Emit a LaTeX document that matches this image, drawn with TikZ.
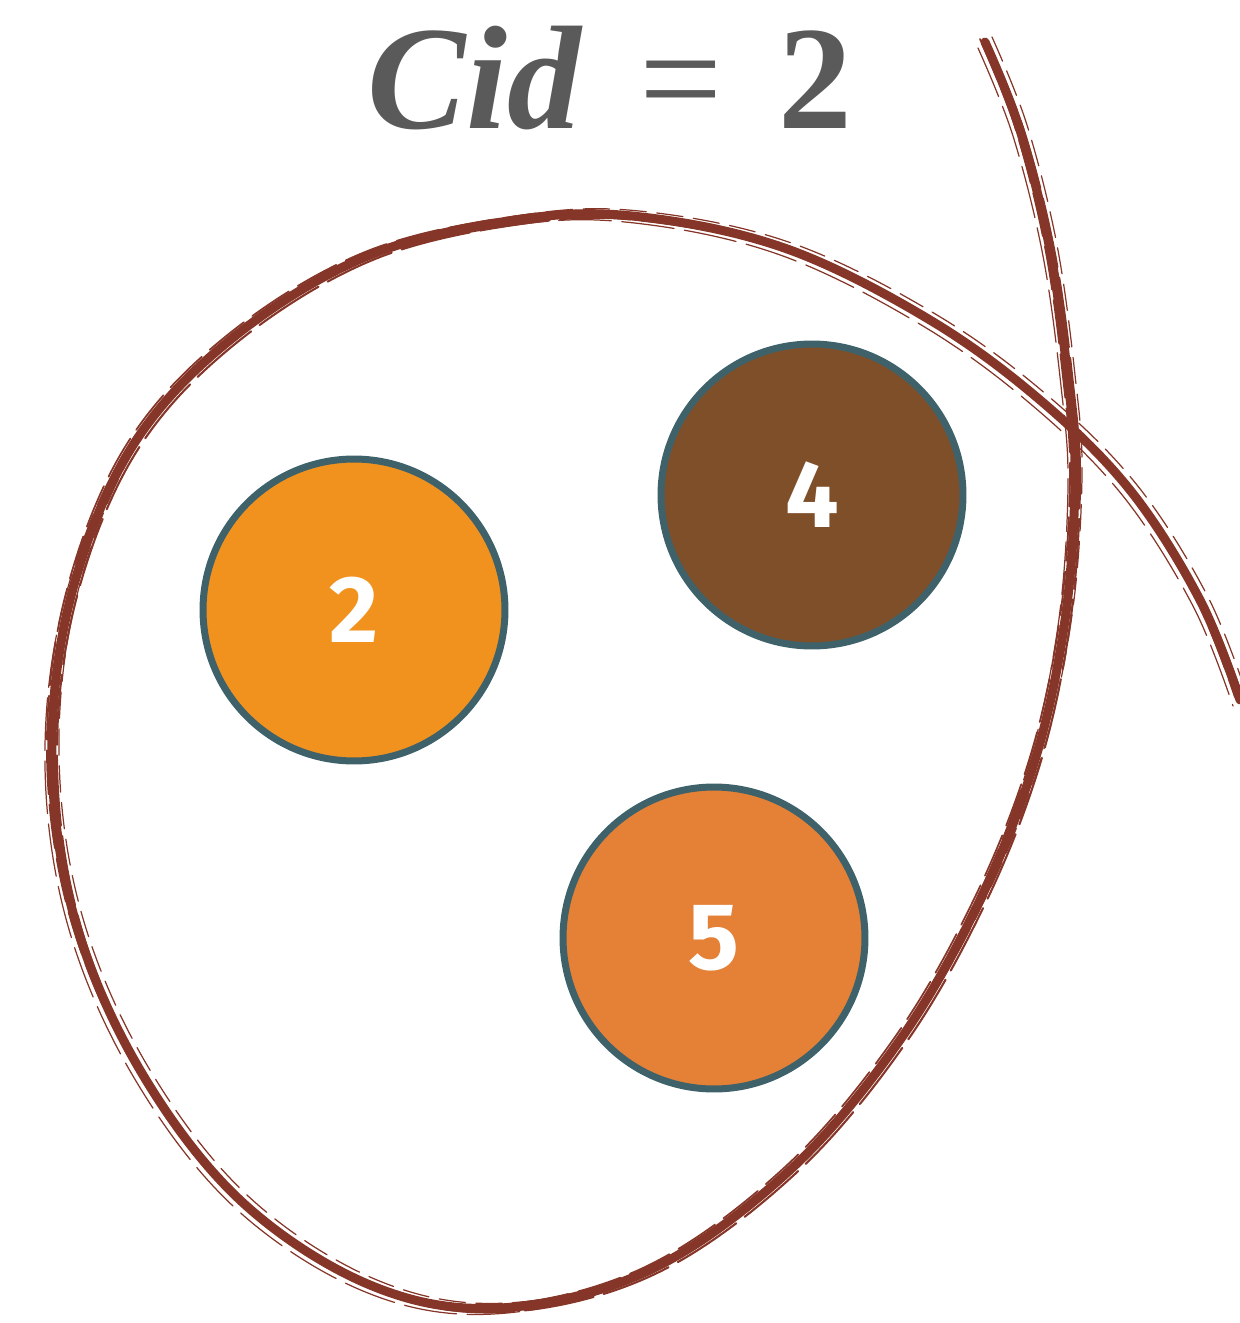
\documentclass[tikz,border=0pt]{standalone}
\usepackage{fontspec}
\setmainfont{Liberation Serif}
\newfontfamily\numfont{Fira Sans}
\definecolor{brush}{RGB}{133,54,40}
\definecolor{rim}{RGB}{63,98,106}
\definecolor{amber}{RGB}{242,146,30}
\definecolor{umber}{RGB}{127,79,42}
\definecolor{tangerine}{RGB}{228,129,54}
\definecolor{slate}{RGB}{90,90,90}
\usetikzlibrary{positioning}

\begin{document}
\begin{tikzpicture}[
    x=0.02cm, y=-0.02cm,
    cluster/.style={draw=rim, line width=0.14cm, circle, minimum size=6.04cm, inner sep=0pt,
      text=white, font=\numfont\bfseries\fontsize{54}{60}\selectfont},
    loopline/.style={brush, line cap=round, line join=round}
  ]
  \useasboundingbox (0,0) rectangle (1240,1323);

  % title
  \node (title) [anchor=base, text=slate, font=\fontsize{84}{90}\selectfont] at (610,128)
    {\textbf{\textit{Cid}}\hspace{0.38em}=\hspace{0.38em}\textbf{2}};

  % hand drawn loop
  \def\looppath{(985,42) (1020,130) (1050,250) (1068,380) (1075,480) (1065,620) (1035,760)
    (980,900) (900,1040) (790,1170) (650,1270) (500,1308) (370,1285) (240,1200) (140,1070)
    (75,920) (52,760) (70,600) (130,450) (230,340) (370,255) (530,218) (650,218) (790,250)
    (930,320) (1040,400) (1130,490) (1200,600) (1240,700)}
  \draw[loopline, line width=0.18cm] plot[smooth, tension=0.6] coordinates {\looppath};
  \foreach \dx/\dy/\w/\on in {5/4/1.2pt/40, -5/-3/1pt/25, 7/-5/0.7pt/15, -7/6/0.7pt/30}
    \draw[loopline, line width=\w, shift={(\dx,\dy)}, dash pattern=on \on pt off 6pt]
      plot[smooth, tension=0.6] coordinates {\looppath};

  % members
  \node (c2) [cluster, fill=amber] at (354,610) {2};
  \node (c4) [cluster, fill=umber] at (812,495) {4};
  \node (c5) [cluster, fill=tangerine] at (714,938) {5};

\end{tikzpicture}
\end{document}
